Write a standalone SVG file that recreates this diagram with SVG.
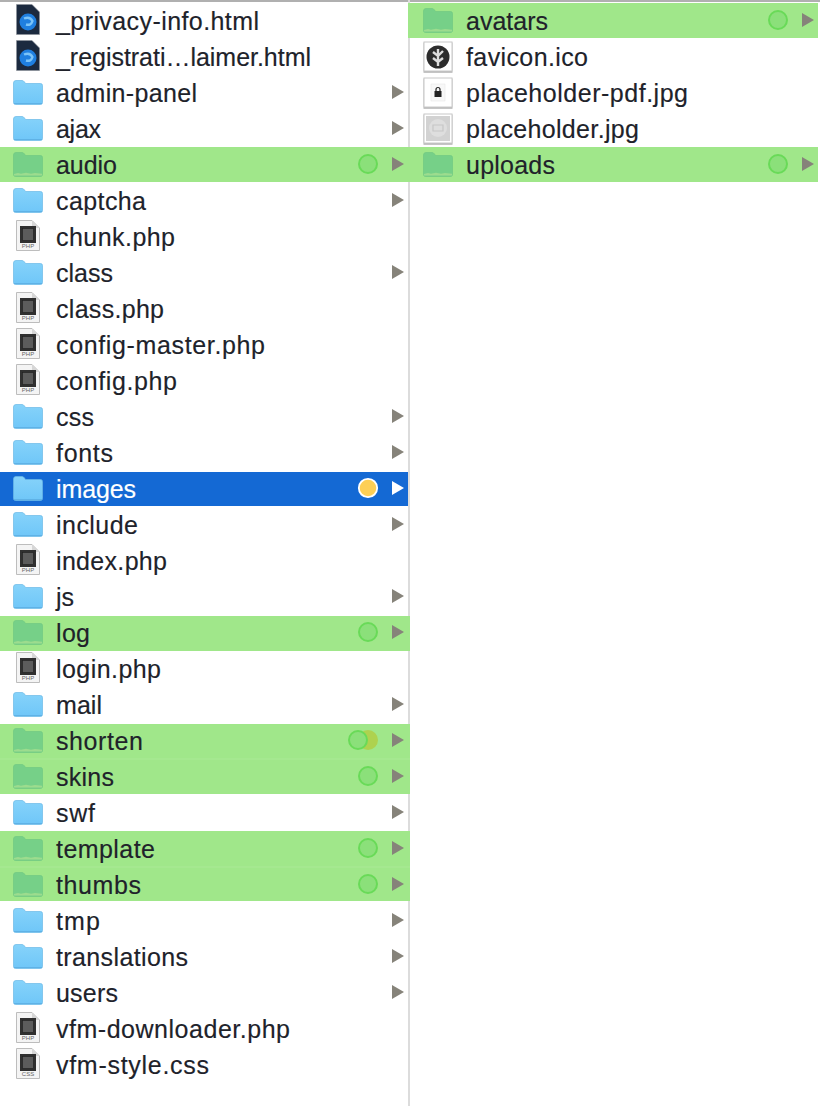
<svg xmlns="http://www.w3.org/2000/svg" width="820" height="1106" viewBox="0 0 820 1106">
<style>
text{font-family:"Liberation Sans",Arial,sans-serif;font-size:25px;fill:#20222a;stroke:#20222a;stroke-width:0.15}
text.tiny{font-size:6px;fill:#666;stroke:none;text-anchor:middle}
.sel text{fill:#fff;stroke:#fff}
.band{fill:#a0e78a}
.seam{fill:#a9ea95}
.dot{fill:#8be07a;stroke:#69da58;stroke-width:2}
.arr{fill:#86837a}
</style>
<defs>
<linearGradient id="bl" x1="0" y1="0" x2="0" y2="1"><stop offset="0" stop-color="#86d3fa"/><stop offset="1" stop-color="#6fc6f8"/></linearGradient>
<symbol id="folder" viewBox="0 0 30 25" width="30" height="25" overflow="visible">
<path d="M0.500 3Q0.500 0.500 3 0.500H9Q10.500 0.500 11.500 2L12.500 3.500H27.500Q29.500 3.500 29.500 5.500V22.500Q29.500 24.500 27.500 24.500H2.500Q0.500 24.500 0.500 22.500Z" fill="url(#bl)" stroke="#6ab9e6" stroke-width="0.7"/>
<rect x="1" y="23" width="28" height="1" fill="#5fb2e6"/>
</symbol>
<symbol id="gfolder" viewBox="0 0 30 25" width="30" height="25" overflow="visible">
<path d="M0.500 3Q0.500 0.500 3 0.500H9Q10.500 0.500 11.500 2L12.500 3.500H27.500Q29.500 3.500 29.500 5.500V22.500Q29.500 24.500 27.500 24.500H2.500Q0.500 24.500 0.500 22.500Z" fill="#76d088" stroke="#70c882" stroke-width="0.7"/>
<path d="M1 22L5 21L8 21.800L13 20.800L18 21.800L22 21L29 21.800V23.500H1Z" fill="#9ddc8e"/>
</symbol>
<symbol id="doc" viewBox="0 0 24 31" width="24" height="31" overflow="visible">
<path d="M0.500 0.500H16L23.500 8V30.500H0.500Z" fill="#f4f4f4" stroke="#bdbdbd"/>
<path d="M16 0.500V8H23.500Z" fill="#d6d6d6"/>
<rect x="4" y="6" width="16" height="17" fill="#303030"/>
<rect x="6.500" y="8.500" width="11" height="12" fill="#5c5c5c" stroke="#1e1e1e" stroke-width="0.6"/>
</symbol>
<symbol id="fx" viewBox="0 0 24 31" width="24" height="31" overflow="visible">
<path d="M0.500 0.500H16L23.500 8V30.500H0.500Z" fill="#1c2a3f" stroke="#8b9098" stroke-width="0.6"/>
<circle cx="12" cy="18" r="8.500" fill="#1f7fe0"/>
<path d="M8 14.500Q14 12 16.500 17Q15 22 10 20.500" fill="none" stroke="#7cc4f8" stroke-width="2.400"/>
</symbol>
<path id="arrow" d="M0-7L12 0L0 7Z"/>
<filter id="sh" x="-10%" y="-10%" width="120%" height="125%"><feDropShadow dx="0" dy="1" stdDeviation="0.700" flood-color="#000" flood-opacity="0.450"/></filter>
</defs>
<rect width="820" height="1106" fill="#fff"/>
<rect width="820" height="2" fill="#b0b0b0"/>
<rect x="408" y="0" width="2" height="1106" fill="#dcdcdc"/>
<g id="connectors"/>
<g id="left-column">
<g id="n-privacy"><use href="#fx" x="16" y="4"/><text x="56" y="30" textLength="203">_privacy-info.html</text></g>
<g id="n-registration"><use href="#fx" x="16" y="40"/><text x="56" y="66" textLength="255">_registrati…laimer.html</text></g>
<g id="n-admin-panel"><use href="#folder" x="13" y="80"/><text x="56" y="102" textLength="141">admin-panel</text><use href="#arrow" class="arr" x="392" y="92"/></g>
<g id="n-ajax"><use href="#folder" x="13" y="116"/><text x="56" y="138" textLength="45">ajax</text><use href="#arrow" class="arr" x="392" y="128"/></g>
<g id="n-audio"><rect class="band" x="0" y="147" width="410" height="35"/><use href="#gfolder" x="13" y="152"/><text x="56" y="174" textLength="61">audio</text><circle class="dot" cx="368" cy="164" r="9"/><use href="#arrow" class="arr" x="392" y="164"/></g>
<g id="n-captcha"><use href="#folder" x="13" y="188"/><text x="56" y="210" textLength="90">captcha</text><use href="#arrow" class="arr" x="392" y="200"/></g>
<g id="n-chunk"><use href="#doc" x="16" y="220"/><text class="tiny" x="28" y="248">PHP</text><text x="56" y="246" textLength="119">chunk.php</text></g>
<g id="n-class"><use href="#folder" x="13" y="260"/><text x="56" y="282" textLength="57">class</text><use href="#arrow" class="arr" x="392" y="272"/></g>
<g id="n-class-php"><use href="#doc" x="16" y="292"/><text class="tiny" x="28" y="320">PHP</text><text x="56" y="318" textLength="108">class.php</text></g>
<g id="n-config-master"><use href="#doc" x="16" y="328"/><text class="tiny" x="28" y="356">PHP</text><text x="56" y="354" textLength="209">config-master.php</text></g>
<g id="n-config"><use href="#doc" x="16" y="364"/><text class="tiny" x="28" y="392">PHP</text><text x="56" y="390" textLength="121">config.php</text></g>
<g id="n-css"><use href="#folder" x="13" y="404"/><text x="56" y="426" textLength="38">css</text><use href="#arrow" class="arr" x="392" y="416"/></g>
<g id="n-fonts"><use href="#folder" x="13" y="440"/><text x="56" y="462" textLength="57">fonts</text><use href="#arrow" class="arr" x="392" y="452"/></g>
<g id="n-images" class="sel"><rect x="0" y="472" width="408" height="34" fill="#1469d4"/><use href="#folder" x="13" y="476"/><text x="56" y="498" textLength="80">images</text><circle cx="368" cy="488" r="9.200" fill="#fdcf56" stroke="#fff" stroke-width="1.800"/><use href="#arrow" fill="#fff" x="392" y="488"/></g>
<g id="n-include"><use href="#folder" x="13" y="512"/><text x="56" y="534" textLength="82">include</text><use href="#arrow" class="arr" x="392" y="524"/></g>
<g id="n-index"><use href="#doc" x="16" y="544"/><text class="tiny" x="28" y="572">PHP</text><text x="56" y="570" textLength="111">index.php</text></g>
<g id="n-js"><use href="#folder" x="13" y="584"/><text x="56" y="606" textLength="18">js</text><use href="#arrow" class="arr" x="392" y="596"/></g>
<g id="n-log"><rect class="band" x="0" y="616" width="410" height="35"/><use href="#gfolder" x="13" y="620"/><text x="56" y="642" textLength="34">log</text><circle class="dot" cx="368" cy="632" r="9"/><use href="#arrow" class="arr" x="392" y="632"/></g>
<g id="n-login"><use href="#doc" x="16" y="652"/><text class="tiny" x="28" y="680">PHP</text><text x="56" y="678" textLength="105">login.php</text></g>
<g id="n-mail"><use href="#folder" x="13" y="692"/><text x="56" y="714" textLength="46">mail</text><use href="#arrow" class="arr" x="392" y="704"/></g>
<g id="n-shorten"><rect class="band" x="0" y="724" width="410" height="35"/><use href="#gfolder" x="13" y="728"/><text x="56" y="750" textLength="87">shorten</text><circle cx="368" cy="740" r="10" fill="#aed24f"/><circle class="dot" cx="358" cy="740" r="9"/><use href="#arrow" class="arr" x="392" y="740"/></g>
<g id="n-skins"><rect class="band" x="0" y="759" width="410" height="35"/><rect class="seam" x="0" y="758.500" width="410" height="1"/><use href="#gfolder" x="13" y="764"/><text x="56" y="786" textLength="58">skins</text><circle class="dot" cx="368" cy="776" r="9"/><use href="#arrow" class="arr" x="392" y="776"/></g>
<g id="n-swf"><use href="#folder" x="13" y="800"/><text x="56" y="822" textLength="39">swf</text><use href="#arrow" class="arr" x="392" y="812"/></g>
<g id="n-template"><rect class="band" x="0" y="831" width="410" height="36"/><use href="#gfolder" x="13" y="836"/><text x="56" y="858" textLength="99">template</text><circle class="dot" cx="368" cy="848" r="9"/><use href="#arrow" class="arr" x="392" y="848"/></g>
<g id="n-thumbs"><rect class="band" x="0" y="867" width="410" height="34"/><rect class="seam" x="0" y="866.500" width="410" height="1"/><use href="#gfolder" x="13" y="872"/><text x="56" y="894" textLength="85">thumbs</text><circle class="dot" cx="368" cy="884" r="9"/><use href="#arrow" class="arr" x="392" y="884"/></g>
<g id="n-tmp"><use href="#folder" x="13" y="908"/><text x="56" y="930" textLength="44">tmp</text><use href="#arrow" class="arr" x="392" y="920"/></g>
<g id="n-translations"><use href="#folder" x="13" y="944"/><text x="56" y="966" textLength="132">translations</text><use href="#arrow" class="arr" x="392" y="956"/></g>
<g id="n-users"><use href="#folder" x="13" y="980"/><text x="56" y="1002" textLength="62">users</text><use href="#arrow" class="arr" x="392" y="992"/></g>
<g id="n-vfm-downloader"><use href="#doc" x="16" y="1012"/><text class="tiny" x="28" y="1040">PHP</text><text x="56" y="1038" textLength="234">vfm-downloader.php</text></g>
<g id="n-vfm-style"><use href="#doc" x="16" y="1048"/><text class="tiny" x="28" y="1076">CSS</text><text x="56" y="1074" textLength="153">vfm-style.css</text></g>
</g>
<g id="right-column">
<g id="n-avatars"><rect class="band" x="408" y="3" width="410" height="35"/><use href="#gfolder" x="423" y="8"/><text x="466" y="30" textLength="82">avatars</text><circle class="dot" cx="778" cy="20" r="9"/><use href="#arrow" class="arr" x="802" y="20"/></g>
<g id="n-favicon"><rect x="424" y="42" width="28" height="29" fill="#fff" stroke="#c8c8c8" filter="url(#sh)"/><circle cx="438" cy="57" r="11.500" fill="#2c2c2c"/><path d="M438 49V66M433 52L438 56L443 51M433 58L438 62L443 58" stroke="#ddd" stroke-width="2.400" fill="none"/><text x="466" y="66" textLength="122">favicon.ico</text></g>
<g id="n-placeholder-pdf"><rect x="424" y="78" width="28" height="29" fill="#fff" stroke="#c8c8c8" filter="url(#sh)"/><rect x="431" y="84" width="14" height="17" fill="#f8f8f8" stroke="#e4e4e4" stroke-width="0.500"/><rect x="434.500" y="91" width="7" height="6" fill="#222"/><path d="M436 91V89.500A2 2 0 0 1 440 89.500V91" fill="none" stroke="#222" stroke-width="1.200"/><text x="466" y="102" textLength="222">placeholder-pdf.jpg</text></g>
<g id="n-placeholder"><rect x="424" y="114" width="28" height="29" fill="#fff" stroke="#c8c8c8" filter="url(#sh)"/><rect x="426" y="116" width="24" height="25" fill="#d2d2d2"/><circle cx="438" cy="128" r="9" fill="#dedede"/><path d="M433 125H443V131H433Z" fill="none" stroke="#c6c6c6" stroke-width="1.200"/><text x="466" y="138" textLength="173">placeholder.jpg</text></g>
<g id="n-uploads"><rect class="band" x="408" y="147" width="410" height="35"/><use href="#gfolder" x="423" y="152"/><text x="466" y="174" textLength="89">uploads</text><circle class="dot" cx="778" cy="164" r="9"/><use href="#arrow" class="arr" x="802" y="164"/></g>
</g>
</svg>
